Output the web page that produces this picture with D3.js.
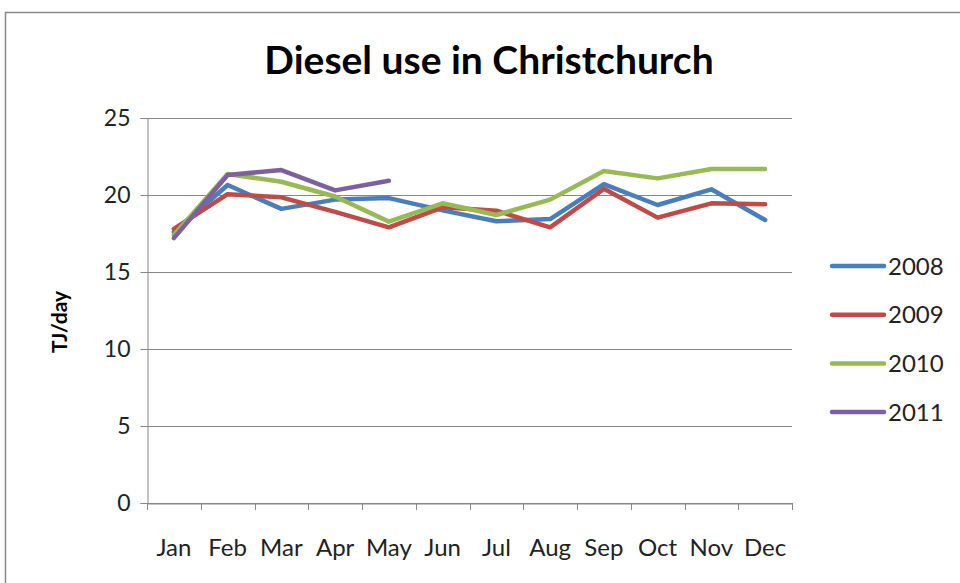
<!DOCTYPE html>
<html><head><meta charset="utf-8">
<script src="https://cdn.jsdelivr.net/npm/d3@7"></script>
<style>body{margin:0;background:#fff;}svg{display:block;font-family:Lato,"Open Sans",sans-serif;}</style>
</head><body>
<svg id="c" width="960" height="583"></svg>
<script>
const months = ["Jan","Feb","Mar","Apr","May","Jun","Jul","Aug","Sep","Oct","Nov","Dec"];
const yTicks = [0,5,10,15,20,25];
const s2008 = [17.6,20.65,19.1,19.7,19.8,19.0,18.3,18.44,20.7,19.35,20.37,18.38];
const s2009 = [17.8,20.05,19.85,18.9,17.9,19.2,18.98,17.9,20.4,18.53,19.46,19.4];
const s2010 = [17.4,21.36,20.86,19.9,18.27,19.46,18.7,19.7,21.56,21.08,21.69,21.69];
const s2011 = [17.2,21.3,21.62,20.3,20.93];
const seriesNames = ["2008","2009","2010","2011"];
const seriesColors = ["#4A7EBB","#BE4B48","#98B954","#7D60A0"];
const seriesData = [s2008,s2009,s2010,s2011];

const svg = d3.select("#c");
svg.append("rect").attr("x",5.5).attr("y",12.5).attr("width",1000).attr("height",600)
  .attr("fill","#fff").attr("stroke","#888").attr("stroke-width",1.5);

const L=147,R=792,T=118,B=503;
const x = d3.scaleBand().domain(months).range([L,R]);
const y = d3.scaleLinear().domain([0,25]).range([B,T]);

// gridlines
svg.append("g").selectAll("line").data(yTicks).join("line")
  .attr("x1",L).attr("x2",R).attr("y1",d=>Math.round(y(d))+0.5).attr("y2",d=>Math.round(y(d))+0.5)
  .attr("stroke","#878787").attr("stroke-width",1);

// y axis
const ya = svg.append("g").attr("transform",`translate(${L+0.5},0)`)
  .call(d3.axisLeft(y).tickValues(yTicks).tickSize(7).tickPadding(10));
ya.select(".domain").attr("stroke","#878787");
ya.selectAll(".tick line").attr("stroke","#878787");
ya.selectAll("text").attr("font-size",23).attr("fill","#222").attr("font-family","Lato,sans-serif");

// x axis
const xa = svg.append("g").attr("transform",`translate(0,${B+0.5})`)
  .call(d3.axisBottom(x).tickSize(0).tickPadding(35));
xa.select(".domain").attr("stroke","#878787");
xa.selectAll("text").attr("font-size",24).attr("fill","#222").attr("font-family","Lato,sans-serif");
svg.append("g").selectAll("line").data(d3.range(months.length+1)).join("line")
  .attr("x1",i=>Math.round(L+i*x.step())+0.5).attr("x2",i=>Math.round(L+i*x.step())+0.5)
  .attr("y1",B).attr("y2",B+7).attr("stroke","#878787");

// lines
const line = d3.line().x((d,i)=>x(months[i])+x.bandwidth()/2).y(d=>y(d));
seriesData.forEach((s,k)=>{
  svg.append("path").datum(s).attr("d",line).attr("fill","none")
    .attr("stroke",seriesColors[k]).attr("stroke-width",4.5)
    .attr("stroke-linejoin","round").attr("stroke-linecap","round");
});

// title
svg.append("text").attr("x",489).attr("y",74).attr("text-anchor","middle")
  .attr("font-size",39).attr("font-weight","bold").attr("fill","#000").text("Diesel use in Christchurch");

// y label
svg.append("text").attr("transform","translate(67,322) rotate(-90)").attr("text-anchor","middle")
  .attr("font-size",21).attr("font-weight","bold").attr("fill","#000").text("TJ/day");

// legend
const lg = svg.append("g");
seriesNames.forEach((n,k)=>{
  const yy = 266 + k*48.7;
  lg.append("line").attr("x1",832).attr("x2",884).attr("y1",yy).attr("y2",yy)
    .attr("stroke",seriesColors[k]).attr("stroke-width",4.5).attr("stroke-linecap","round");
  lg.append("text").attr("x",888).attr("y",yy+8.5).attr("font-size",24).attr("fill","#222").text(n);
});
</script>
</body></html>
